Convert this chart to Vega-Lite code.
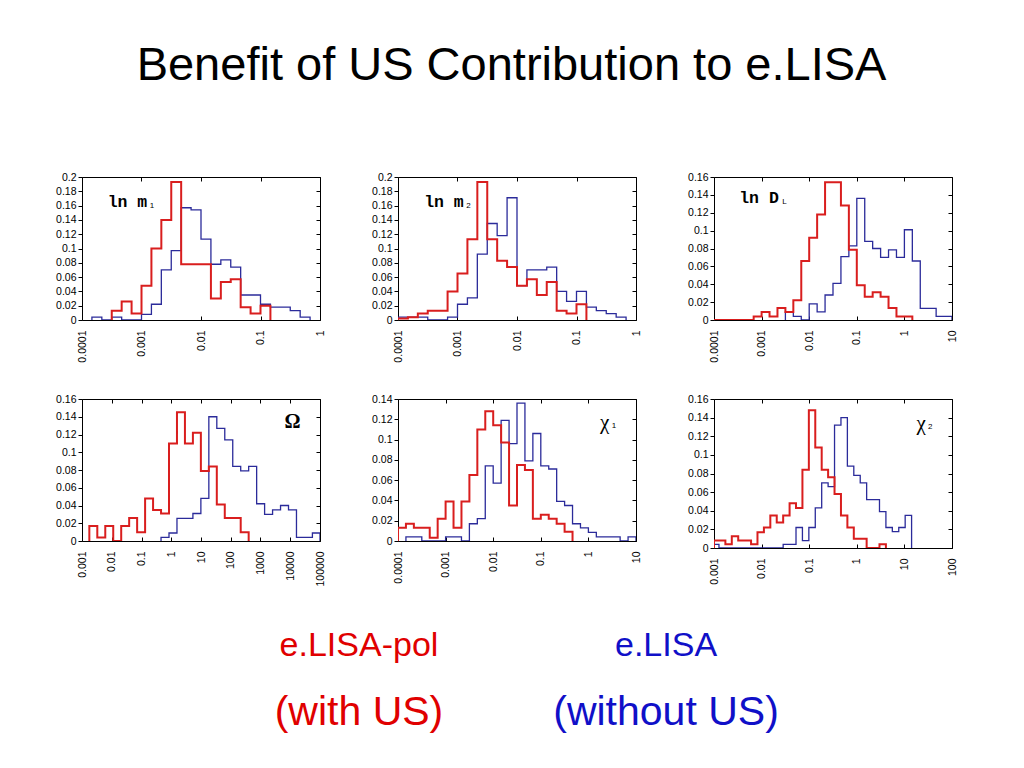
{
"$schema":"https://vega.github.io/schema/vega-lite/v6.json",
"background":"white",
"padding":{"left":55,"top":41,"right":10,"bottom":10},
"title":{"text":"Benefit of US Contribution to e.LISA","fontSize":47,"font":"Liberation Sans","fontWeight":"normal","anchor":"middle","baseline":"alphabetic","offset":45,"dx":5,"color":"#000"},
"config":{"view":{"stroke":null},"font":"Liberation Sans","axis":{"labelFont":"Liberation Sans","labelFontSize":10.5,"labelColor":"#000","tickColor":"#000","grid":false,"domain":false,"title":null}},
"spacing":30,
"datasets":{
"labels":[{"p":1,"x":0.00027,"y":0.1655,"t":"ln m","sub":"1"},{"p":2,"x":0.000275,"y":0.1655,"t":"ln m","sub":"2"},{"p":3,"x":0.000338,"y":0.1367,"t":"ln D","sub":"L"},{"p":4,"x":12000,"y":0.1344,"t":"Ω","sub":""},{"p":5,"x":2.2,"y":0.116,"t":"χ","sub":"1"},{"p":6,"x":22.4,"y":0.1328,"t":"χ","sub":"2"}],
"legend":[{"g":"with","row":1,"t":"e.LISA-pol"},{"g":"without","row":1,"t":"e.LISA"},{"g":"with","row":2,"t":"(with US)"},{"g":"without","row":2,"t":"(without US)"}],
"p1":[
{"s":"r","i":0,"x":0.00031623,"y":0},{"s":"r","i":1,"x":0.00031623,"y":0.013},{"s":"r","i":2,"x":0.00046416,"y":0.026},{"s":"r","i":3,"x":0.00068129,"y":0.009},{"s":"r","i":4,"x":0.001,"y":0.048},{"s":"r","i":5,"x":0.0014678,"y":0.1},{"s":"r","i":6,"x":0.0021544,"y":0.14},{"s":"r","i":7,"x":0.0031623,"y":0.193},{"s":"r","i":8,"x":0.0046416,"y":0.078},{"s":"r","i":9,"x":0.014678,"y":0.03},{"s":"r","i":10,"x":0.021544,"y":0.053},{"s":"r","i":11,"x":0.031623,"y":0.057},{"s":"r","i":12,"x":0.046416,"y":0.018},{"s":"r","i":13,"x":0.068129,"y":0.009},{"s":"r","i":14,"x":0.1,"y":0.02},{"s":"r","i":15,"x":0.14678,"y":0},
{"s":"b","i":0,"x":0.00014678,"y":0},{"s":"b","i":1,"x":0.00014678,"y":0.004},{"s":"b","i":2,"x":0.00021544,"y":0},{"s":"b","i":3,"x":0.00031623,"y":0.004},{"s":"b","i":4,"x":0.00046416,"y":0},{"s":"b","i":5,"x":0.001,"y":0.008},{"s":"b","i":6,"x":0.0014678,"y":0.022},{"s":"b","i":7,"x":0.0021544,"y":0.07},{"s":"b","i":8,"x":0.0031623,"y":0.097},{"s":"b","i":9,"x":0.0046416,"y":0.157},{"s":"b","i":10,"x":0.0068129,"y":0.154},{"s":"b","i":11,"x":0.01,"y":0.113},{"s":"b","i":12,"x":0.014678,"y":0.078},{"s":"b","i":13,"x":0.021544,"y":0.084},{"s":"b","i":14,"x":0.031623,"y":0.074},{"s":"b","i":15,"x":0.046416,"y":0.035},{"s":"b","i":16,"x":0.1,"y":0.022},{"s":"b","i":17,"x":0.14678,"y":0.018},{"s":"b","i":18,"x":0.31623,"y":0.013},{"s":"b","i":19,"x":0.46416,"y":0.004},{"s":"b","i":20,"x":0.68129,"y":0}],
"p2":[
{"s":"r","i":0,"x":0.0001,"y":0},{"s":"r","i":1,"x":0.0001,"y":0.002},{"s":"r","i":2,"x":0.00014678,"y":0.004},{"s":"r","i":3,"x":0.00021544,"y":0.009},{"s":"r","i":4,"x":0.00031623,"y":0.013},{"s":"r","i":5,"x":0.00068129,"y":0.04},{"s":"r","i":6,"x":0.001,"y":0.065},{"s":"r","i":7,"x":0.0014678,"y":0.113},{"s":"r","i":8,"x":0.0021544,"y":0.193},{"s":"r","i":9,"x":0.0031623,"y":0.113},{"s":"r","i":10,"x":0.0046416,"y":0.083},{"s":"r","i":11,"x":0.0068129,"y":0.074},{"s":"r","i":12,"x":0.01,"y":0.048},{"s":"r","i":13,"x":0.014678,"y":0.057},{"s":"r","i":14,"x":0.021544,"y":0.035},{"s":"r","i":15,"x":0.031623,"y":0.053},{"s":"r","i":16,"x":0.046416,"y":0.013},{"s":"r","i":17,"x":0.068129,"y":0.009},{"s":"r","i":18,"x":0.1,"y":0.022},{"s":"r","i":19,"x":0.14678,"y":0},
{"s":"b","i":0,"x":0.0001,"y":0},{"s":"b","i":1,"x":0.0001,"y":0.004},{"s":"b","i":2,"x":0.00031623,"y":0},{"s":"b","i":3,"x":0.00068129,"y":0.004},{"s":"b","i":4,"x":0.001,"y":0.022},{"s":"b","i":5,"x":0.0014678,"y":0.031},{"s":"b","i":6,"x":0.0021544,"y":0.092},{"s":"b","i":7,"x":0.0031623,"y":0.135},{"s":"b","i":8,"x":0.0046416,"y":0.118},{"s":"b","i":9,"x":0.0068129,"y":0.171},{"s":"b","i":10,"x":0.01,"y":0.048},{"s":"b","i":11,"x":0.014678,"y":0.07},{"s":"b","i":12,"x":0.031623,"y":0.074},{"s":"b","i":13,"x":0.046416,"y":0.04},{"s":"b","i":14,"x":0.068129,"y":0.026},{"s":"b","i":15,"x":0.1,"y":0.04},{"s":"b","i":16,"x":0.14678,"y":0.018},{"s":"b","i":17,"x":0.21544,"y":0.013},{"s":"b","i":18,"x":0.31623,"y":0.009},{"s":"b","i":19,"x":0.46416,"y":0.004},{"s":"b","i":20,"x":0.68129,"y":0}],
"p3":[
{"s":"r","i":0,"x":0.0001,"y":0},{"s":"r","i":1,"x":0.00068129,"y":0.004},{"s":"r","i":2,"x":0.001,"y":0.009},{"s":"r","i":3,"x":0.0014678,"y":0.004},{"s":"r","i":4,"x":0.0021544,"y":0.0135},{"s":"r","i":5,"x":0.0031623,"y":0.009},{"s":"r","i":6,"x":0.0046416,"y":0.022},{"s":"r","i":7,"x":0.0068129,"y":0.066},{"s":"r","i":8,"x":0.01,"y":0.092},{"s":"r","i":9,"x":0.014678,"y":0.118},{"s":"r","i":10,"x":0.021544,"y":0.154},{"s":"r","i":11,"x":0.046416,"y":0.128},{"s":"r","i":12,"x":0.068129,"y":0.0785},{"s":"r","i":13,"x":0.1,"y":0.039},{"s":"r","i":14,"x":0.14678,"y":0.026},{"s":"r","i":15,"x":0.21544,"y":0.031},{"s":"r","i":16,"x":0.31623,"y":0.026},{"s":"r","i":17,"x":0.46416,"y":0.0135},{"s":"r","i":18,"x":0.68129,"y":0.004},{"s":"r","i":19,"x":1.4678,"y":0},
{"s":"b","i":0,"x":0.0031623,"y":0},{"s":"b","i":1,"x":0.0031623,"y":0.009},{"s":"b","i":2,"x":0.0046416,"y":0.004},{"s":"b","i":3,"x":0.0068129,"y":0},{"s":"b","i":4,"x":0.01,"y":0.018},{"s":"b","i":5,"x":0.014678,"y":0.009},{"s":"b","i":6,"x":0.021544,"y":0.028},{"s":"b","i":7,"x":0.031623,"y":0.041},{"s":"b","i":8,"x":0.046416,"y":0.071},{"s":"b","i":9,"x":0.068129,"y":0.083},{"s":"b","i":10,"x":0.1,"y":0.136},{"s":"b","i":11,"x":0.14678,"y":0.088},{"s":"b","i":12,"x":0.21544,"y":0.08},{"s":"b","i":13,"x":0.31623,"y":0.07},{"s":"b","i":14,"x":0.46416,"y":0.0785},{"s":"b","i":15,"x":0.68129,"y":0.07},{"s":"b","i":16,"x":1,"y":0.101},{"s":"b","i":17,"x":1.4678,"y":0.066},{"s":"b","i":18,"x":2.1544,"y":0.013},{"s":"b","i":19,"x":4.6416,"y":0.004},{"s":"b","i":20,"x":10,"y":0}],
"p4":[
{"s":"r","i":0,"x":0.001764,"y":0},{"s":"r","i":1,"x":0.001764,"y":0.017},{"s":"r","i":2,"x":0.003268,"y":0.004},{"s":"r","i":3,"x":0.006056,"y":0.017},{"s":"r","i":4,"x":0.011217,"y":0},{"s":"r","i":5,"x":0.02078,"y":0.017},{"s":"r","i":6,"x":0.0385,"y":0.026},{"s":"r","i":7,"x":0.07133,"y":0.01},{"s":"r","i":8,"x":0.13215,"y":0.048},{"s":"r","i":9,"x":0.2448,"y":0.035},{"s":"r","i":10,"x":0.4536,"y":0.031},{"s":"r","i":11,"x":0.8404,"y":0.11},{"s":"r","i":12,"x":1.557,"y":0.145},{"s":"r","i":13,"x":2.885,"y":0.11},{"s":"r","i":14,"x":5.345,"y":0.122},{"s":"r","i":15,"x":9.902,"y":0.079},{"s":"r","i":16,"x":18.35,"y":0.084},{"s":"r","i":17,"x":33.99,"y":0.041},{"s":"r","i":18,"x":62.97,"y":0.026},{"s":"r","i":19,"x":216.1,"y":0.01},{"s":"r","i":20,"x":400.4,"y":0},
{"s":"b","i":0,"x":0.4536,"y":0},{"s":"b","i":1,"x":0.4536,"y":0.004},{"s":"b","i":2,"x":0.8404,"y":0.009},{"s":"b","i":3,"x":1.557,"y":0.0255},{"s":"b","i":4,"x":5.345,"y":0.031},{"s":"b","i":5,"x":9.902,"y":0.048},{"s":"b","i":6,"x":18.35,"y":0.14},{"s":"b","i":7,"x":33.99,"y":0.127},{"s":"b","i":8,"x":62.97,"y":0.114},{"s":"b","i":9,"x":116.7,"y":0.084},{"s":"b","i":10,"x":216.1,"y":0.079},{"s":"b","i":11,"x":400.4,"y":0.084},{"s":"b","i":12,"x":741.9,"y":0.042},{"s":"b","i":13,"x":1374,"y":0.03},{"s":"b","i":14,"x":2546,"y":0.035},{"s":"b","i":15,"x":4717,"y":0.04},{"s":"b","i":16,"x":8739,"y":0.035},{"s":"b","i":17,"x":16190,"y":0.004},{"s":"b","i":18,"x":55580,"y":0.009},{"s":"b","i":19,"x":100000,"y":0}],
"p5":[
{"s":"r","i":0,"x":0.0001,"y":0},{"s":"r","i":1,"x":0.0001,"y":0.013},{"s":"r","i":2,"x":0.00014678,"y":0.017},{"s":"r","i":3,"x":0.00021544,"y":0.013},{"s":"r","i":4,"x":0.00046416,"y":0.0033},{"s":"r","i":5,"x":0.00068129,"y":0.022},{"s":"r","i":6,"x":0.001,"y":0.039},{"s":"r","i":7,"x":0.0014678,"y":0.013},{"s":"r","i":8,"x":0.0021544,"y":0.039},{"s":"r","i":9,"x":0.0031623,"y":0.065},{"s":"r","i":10,"x":0.0046416,"y":0.11},{"s":"r","i":11,"x":0.0068129,"y":0.128},{"s":"r","i":12,"x":0.01,"y":0.114},{"s":"r","i":13,"x":0.014678,"y":0.097},{"s":"r","i":14,"x":0.021544,"y":0.035},{"s":"r","i":15,"x":0.031623,"y":0.075},{"s":"r","i":16,"x":0.046416,"y":0.07},{"s":"r","i":17,"x":0.068129,"y":0.022},{"s":"r","i":18,"x":0.1,"y":0.026},{"s":"r","i":19,"x":0.14678,"y":0.022},{"s":"r","i":20,"x":0.21544,"y":0.017},{"s":"r","i":21,"x":0.31623,"y":0.009},{"s":"r","i":22,"x":0.46416,"y":0},
{"s":"b","i":0,"x":0.00014678,"y":0},{"s":"b","i":1,"x":0.00014678,"y":0.004},{"s":"b","i":2,"x":0.00031623,"y":0},{"s":"b","i":3,"x":0.001,"y":0.004},{"s":"b","i":4,"x":0.0021544,"y":0},{"s":"b","i":5,"x":0.0031623,"y":0.017},{"s":"b","i":6,"x":0.0046416,"y":0.022},{"s":"b","i":7,"x":0.0068129,"y":0.074},{"s":"b","i":8,"x":0.01,"y":0.057},{"s":"b","i":9,"x":0.014678,"y":0.119},{"s":"b","i":10,"x":0.021544,"y":0.096},{"s":"b","i":11,"x":0.031623,"y":0.136},{"s":"b","i":12,"x":0.046416,"y":0.079},{"s":"b","i":13,"x":0.068129,"y":0.106},{"s":"b","i":14,"x":0.1,"y":0.074},{"s":"b","i":15,"x":0.14678,"y":0.071},{"s":"b","i":16,"x":0.21544,"y":0.039},{"s":"b","i":17,"x":0.31623,"y":0.035},{"s":"b","i":18,"x":0.46416,"y":0.017},{"s":"b","i":19,"x":0.68129,"y":0.013},{"s":"b","i":20,"x":1,"y":0.0085},{"s":"b","i":21,"x":1.4678,"y":0.004},{"s":"b","i":22,"x":4.6416,"y":0},{"s":"b","i":23,"x":6.8129,"y":0.004},{"s":"b","i":24,"x":10,"y":0}],
"p6":[
{"s":"r","i":0,"x":0.001,"y":0},{"s":"r","i":1,"x":0.001,"y":0.008},{"s":"r","i":2,"x":0.0017338,"y":0.004},{"s":"r","i":3,"x":0.0023652,"y":0.0125},{"s":"r","i":4,"x":0.0032265,"y":0.008},{"s":"r","i":5,"x":0.0060046,"y":0.004},{"s":"r","i":6,"x":0.0081914,"y":0.017},{"s":"r","i":7,"x":0.011179,"y":0.022},{"s":"r","i":8,"x":0.01525,"y":0.035},{"s":"r","i":9,"x":0.020805,"y":0.0275},{"s":"r","i":10,"x":0.028386,"y":0.035},{"s":"r","i":11,"x":0.038726,"y":0.048},{"s":"r","i":12,"x":0.052833,"y":0.043},{"s":"r","i":13,"x":0.072078,"y":0.084},{"s":"r","i":14,"x":0.098333,"y":0.148},{"s":"r","i":15,"x":0.13414,"y":0.108},{"s":"r","i":16,"x":0.18299,"y":0.084},{"s":"r","i":17,"x":0.24966,"y":0.076},{"s":"r","i":18,"x":0.34059,"y":0.058},{"s":"r","i":19,"x":0.46474,"y":0.035},{"s":"r","i":20,"x":0.63404,"y":0.022},{"s":"r","i":21,"x":0.86497,"y":0.01},{"s":"r","i":22,"x":1.6099,"y":0},{"s":"r","i":23,"x":2.9965,"y":0.004},{"s":"r","i":24,"x":4.0877,"y":0},
{"s":"b","i":0,"x":0.001,"y":0},{"s":"b","i":1,"x":0.001,"y":0.004},{"s":"b","i":2,"x":0.0012709,"y":0},{"s":"b","i":3,"x":0.028386,"y":0.004},{"s":"b","i":4,"x":0.052833,"y":0.022},{"s":"b","i":5,"x":0.072078,"y":0.008},{"s":"b","i":6,"x":0.098333,"y":0.022},{"s":"b","i":7,"x":0.13414,"y":0.043},{"s":"b","i":8,"x":0.18299,"y":0.07},{"s":"b","i":9,"x":0.24966,"y":0.066},{"s":"b","i":10,"x":0.34059,"y":0.132},{"s":"b","i":11,"x":0.46474,"y":0.14},{"s":"b","i":12,"x":0.63404,"y":0.088},{"s":"b","i":13,"x":0.86497,"y":0.078},{"s":"b","i":14,"x":1.1801,"y":0.07},{"s":"b","i":15,"x":1.6099,"y":0.052},{"s":"b","i":16,"x":2.9965,"y":0.039},{"s":"b","i":17,"x":4.0877,"y":0.022},{"s":"b","i":18,"x":5.5767,"y":0.0175},{"s":"b","i":19,"x":7.6077,"y":0.022},{"s":"b","i":20,"x":10.38,"y":0.035},{"s":"b","i":21,"x":14.16,"y":0}]
},
"vconcat":[
{"hconcat":[
{"width":238,"height":143,"view":{"stroke":"#000","strokeWidth":1},"data":{"name":"p1"},"resolve":{"axis":{"x":"independent","y":"independent"}},
"layer":[
{"transform":[{"filter":"datum.s=='b'"}],"mark":{"type":"line","interpolate":"step-after","color":"#2b2b9a","strokeWidth":1.3,"clip":true},
"encoding":{"x":{"field":"x","type":"quantitative","scale":{"type":"log","domain":[0.0001,1],"nice":false},"axis":{"orient":"top","values":[0.0001,0.001,0.01,0.1,1],"labels":false,"tickSize":-4}},
"y":{"field":"y","type":"quantitative","scale":{"domain":[0,0.2],"nice":false},"axis":{"orient":"right","values":[0,0.02,0.04,0.06,0.08,0.1,0.12,0.14,0.16,0.18,0.2],"labels":false,"tickSize":-4}},"order":{"field":"i"}}},
{"transform":[{"filter":"datum.s=='r'"}],"mark":{"type":"line","interpolate":"step-after","color":"#d91e1e","strokeWidth":2,"clip":true},
"encoding":{"x":{"field":"x","type":"quantitative","scale":{"type":"log","domain":[0.0001,1],"nice":false},"axis":{"orient":"bottom","values":[0.0001,0.001,0.01,0.1,1],"format":"~g","labelAngle":270,"tickSize":-4,"labelPadding":14}},
"y":{"field":"y","type":"quantitative","scale":{"domain":[0,0.2],"nice":false},"axis":{"orient":"left","values":[0,0.02,0.04,0.06,0.08,0.1,0.12,0.14,0.16,0.18,0.2],"format":"~g","tickSize":4,"labelPadding":2}},"order":{"field":"i"}}},
{"data":{"name":"labels"},"transform":[{"filter":"datum.p==1"}],"mark":{"type":"text","font":"Liberation Mono","fontWeight":"bold","fontSize":16.5,"align":"left","baseline":"middle","fill":"#000"},"encoding":{"x":{"field":"x","type":"quantitative","axis":null},"y":{"field":"y","type":"quantitative","axis":null},"text":{"field":"t"}}},
{"data":{"name":"labels"},"transform":[{"filter":"datum.p==1"}],"mark":{"type":"text","font":"Liberation Sans","fontSize":8,"align":"left","baseline":"middle","dx":42,"dy":4,"fill":"#000"},"encoding":{"x":{"field":"x","type":"quantitative","axis":null},"y":{"field":"y","type":"quantitative","axis":null},"text":{"field":"sub"}}}
]},
{"width":238,"height":143,"view":{"stroke":"#000","strokeWidth":1},"data":{"name":"p2"},"resolve":{"axis":{"x":"independent","y":"independent"}},
"layer":[
{"transform":[{"filter":"datum.s=='b'"}],"mark":{"type":"line","interpolate":"step-after","color":"#2b2b9a","strokeWidth":1.3,"clip":true},
"encoding":{"x":{"field":"x","type":"quantitative","scale":{"type":"log","domain":[0.0001,1],"nice":false},"axis":{"orient":"top","values":[0.0001,0.001,0.01,0.1,1],"labels":false,"tickSize":-4}},
"y":{"field":"y","type":"quantitative","scale":{"domain":[0,0.2],"nice":false},"axis":{"orient":"right","values":[0,0.02,0.04,0.06,0.08,0.1,0.12,0.14,0.16,0.18,0.2],"labels":false,"tickSize":-4}},"order":{"field":"i"}}},
{"transform":[{"filter":"datum.s=='r'"}],"mark":{"type":"line","interpolate":"step-after","color":"#d91e1e","strokeWidth":2,"clip":true},
"encoding":{"x":{"field":"x","type":"quantitative","scale":{"type":"log","domain":[0.0001,1],"nice":false},"axis":{"orient":"bottom","values":[0.0001,0.001,0.01,0.1,1],"format":"~g","labelAngle":270,"tickSize":-4,"labelPadding":14}},
"y":{"field":"y","type":"quantitative","scale":{"domain":[0,0.2],"nice":false},"axis":{"orient":"left","values":[0,0.02,0.04,0.06,0.08,0.1,0.12,0.14,0.16,0.18,0.2],"format":"~g","tickSize":4,"labelPadding":2}},"order":{"field":"i"}}},
{"data":{"name":"labels"},"transform":[{"filter":"datum.p==2"}],"mark":{"type":"text","font":"Liberation Mono","fontWeight":"bold","fontSize":16.5,"align":"left","baseline":"middle","fill":"#000"},"encoding":{"x":{"field":"x","type":"quantitative","axis":null},"y":{"field":"y","type":"quantitative","axis":null},"text":{"field":"t"}}},
{"data":{"name":"labels"},"transform":[{"filter":"datum.p==2"}],"mark":{"type":"text","font":"Liberation Sans","fontSize":8,"align":"left","baseline":"middle","dx":42,"dy":4,"fill":"#000"},"encoding":{"x":{"field":"x","type":"quantitative","axis":null},"y":{"field":"y","type":"quantitative","axis":null},"text":{"field":"sub"}}}
]},
{"width":238,"height":143,"view":{"stroke":"#000","strokeWidth":1},"data":{"name":"p3"},"resolve":{"axis":{"x":"independent","y":"independent"}},
"layer":[
{"transform":[{"filter":"datum.s=='b'"}],"mark":{"type":"line","interpolate":"step-after","color":"#2b2b9a","strokeWidth":1.3,"clip":true},
"encoding":{"x":{"field":"x","type":"quantitative","scale":{"type":"log","domain":[0.0001,10],"nice":false},"axis":{"orient":"top","values":[0.0001,0.001,0.01,0.1,1,10],"labels":false,"tickSize":-4}},
"y":{"field":"y","type":"quantitative","scale":{"domain":[0,0.16],"nice":false},"axis":{"orient":"right","values":[0,0.02,0.04,0.06,0.08,0.1,0.12,0.14,0.16],"labels":false,"tickSize":-4}},"order":{"field":"i"}}},
{"transform":[{"filter":"datum.s=='r'"}],"mark":{"type":"line","interpolate":"step-after","color":"#d91e1e","strokeWidth":2,"clip":true},
"encoding":{"x":{"field":"x","type":"quantitative","scale":{"type":"log","domain":[0.0001,10],"nice":false},"axis":{"orient":"bottom","values":[0.0001,0.001,0.01,0.1,1,10],"format":"~g","labelAngle":270,"tickSize":-4,"labelPadding":14}},
"y":{"field":"y","type":"quantitative","scale":{"domain":[0,0.16],"nice":false},"axis":{"orient":"left","values":[0,0.02,0.04,0.06,0.08,0.1,0.12,0.14,0.16],"format":"~g","tickSize":4,"labelPadding":2}},"order":{"field":"i"}}},
{"data":{"name":"labels"},"transform":[{"filter":"datum.p==3"}],"mark":{"type":"text","font":"Liberation Mono","fontWeight":"bold","fontSize":16.5,"align":"left","baseline":"middle","fill":"#000"},"encoding":{"x":{"field":"x","type":"quantitative","axis":null},"y":{"field":"y","type":"quantitative","axis":null},"text":{"field":"t"}}},
{"data":{"name":"labels"},"transform":[{"filter":"datum.p==3"}],"mark":{"type":"text","font":"Liberation Sans","fontSize":8,"align":"left","baseline":"middle","dx":43,"dy":4,"fill":"#000"},"encoding":{"x":{"field":"x","type":"quantitative","axis":null},"y":{"field":"y","type":"quantitative","axis":null},"text":{"field":"sub"}}}
]}
],"spacing":78,"bounds":"flush"},
{"hconcat":[
{"width":238,"height":142,"view":{"stroke":"#000","strokeWidth":1},"data":{"name":"p4"},"resolve":{"axis":{"x":"independent","y":"independent"}},
"layer":[
{"transform":[{"filter":"datum.s=='b'"}],"mark":{"type":"line","interpolate":"step-after","color":"#2b2b9a","strokeWidth":1.3,"clip":true},
"encoding":{"x":{"field":"x","type":"quantitative","scale":{"type":"log","domain":[0.001,100000],"nice":false},"axis":{"orient":"top","values":[0.001,0.01,0.1,1,10,100,1000,10000,100000],"labels":false,"tickSize":-4}},
"y":{"field":"y","type":"quantitative","scale":{"domain":[0,0.16],"nice":false},"axis":{"orient":"right","values":[0,0.02,0.04,0.06,0.08,0.1,0.12,0.14,0.16],"labels":false,"tickSize":-4}},"order":{"field":"i"}}},
{"transform":[{"filter":"datum.s=='r'"}],"mark":{"type":"line","interpolate":"step-after","color":"#d91e1e","strokeWidth":2,"clip":true},
"encoding":{"x":{"field":"x","type":"quantitative","scale":{"type":"log","domain":[0.001,100000],"nice":false},"axis":{"orient":"bottom","values":[0.001,0.01,0.1,1,10,100,1000,10000,100000],"format":"~g","labelAngle":270,"tickSize":-4,"labelPadding":14}},
"y":{"field":"y","type":"quantitative","scale":{"domain":[0,0.16],"nice":false},"axis":{"orient":"left","values":[0,0.02,0.04,0.06,0.08,0.1,0.12,0.14,0.16],"format":"~g","tickSize":4,"labelPadding":2}},"order":{"field":"i"}}},
{"data":{"name":"labels"},"transform":[{"filter":"datum.p==4"}],"mark":{"type":"text","font":"Liberation Serif","fontWeight":"bold","fontSize":20,"align":"center","baseline":"middle","fill":"#000"},"encoding":{"x":{"field":"x","type":"quantitative","axis":null},"y":{"field":"y","type":"quantitative","axis":null},"text":{"field":"t"}}}
]},
{"width":238,"height":142,"view":{"stroke":"#000","strokeWidth":1},"data":{"name":"p5"},"resolve":{"axis":{"x":"independent","y":"independent"}},
"layer":[
{"transform":[{"filter":"datum.s=='b'"}],"mark":{"type":"line","interpolate":"step-after","color":"#2b2b9a","strokeWidth":1.3,"clip":true},
"encoding":{"x":{"field":"x","type":"quantitative","scale":{"type":"log","domain":[0.0001,10],"nice":false},"axis":{"orient":"top","values":[0.0001,0.001,0.01,0.1,1,10],"labels":false,"tickSize":-4}},
"y":{"field":"y","type":"quantitative","scale":{"domain":[0,0.14],"nice":false},"axis":{"orient":"right","values":[0,0.02,0.04,0.06,0.08,0.1,0.12,0.14],"labels":false,"tickSize":-4}},"order":{"field":"i"}}},
{"transform":[{"filter":"datum.s=='r'"}],"mark":{"type":"line","interpolate":"step-after","color":"#d91e1e","strokeWidth":2,"clip":true},
"encoding":{"x":{"field":"x","type":"quantitative","scale":{"type":"log","domain":[0.0001,10],"nice":false},"axis":{"orient":"bottom","values":[0.0001,0.001,0.01,0.1,1,10],"format":"~g","labelAngle":270,"tickSize":-4,"labelPadding":14}},
"y":{"field":"y","type":"quantitative","scale":{"domain":[0,0.14],"nice":false},"axis":{"orient":"left","values":[0,0.02,0.04,0.06,0.08,0.1,0.12,0.14],"format":"~g","tickSize":4,"labelPadding":2}},"order":{"field":"i"}}},
{"data":{"name":"labels"},"transform":[{"filter":"datum.p==5"}],"mark":{"type":"text","font":"Liberation Serif","fontSize":21,"align":"center","baseline":"middle","fill":"#000"},"encoding":{"x":{"field":"x","type":"quantitative","axis":null},"y":{"field":"y","type":"quantitative","axis":null},"text":{"field":"t"}}},
{"data":{"name":"labels"},"transform":[{"filter":"datum.p==5"}],"mark":{"type":"text","font":"Liberation Sans","fontSize":8,"align":"left","baseline":"middle","dx":7,"dy":3,"fill":"#000"},"encoding":{"x":{"field":"x","type":"quantitative","axis":null},"y":{"field":"y","type":"quantitative","axis":null},"text":{"field":"sub"}}}
]},
{"width":238,"height":149,"view":{"stroke":"#000","strokeWidth":1},"data":{"name":"p6"},"resolve":{"axis":{"x":"independent","y":"independent"}},
"layer":[
{"transform":[{"filter":"datum.s=='b'"}],"mark":{"type":"line","interpolate":"step-after","color":"#2b2b9a","strokeWidth":1.3,"clip":true},
"encoding":{"x":{"field":"x","type":"quantitative","scale":{"type":"log","domain":[0.001,100],"nice":false},"axis":{"orient":"top","values":[0.001,0.01,0.1,1,10,100],"labels":false,"tickSize":-4}},
"y":{"field":"y","type":"quantitative","scale":{"domain":[0,0.16],"nice":false},"axis":{"orient":"right","values":[0,0.02,0.04,0.06,0.08,0.1,0.12,0.14,0.16],"labels":false,"tickSize":-4}},"order":{"field":"i"}}},
{"transform":[{"filter":"datum.s=='r'"}],"mark":{"type":"line","interpolate":"step-after","color":"#d91e1e","strokeWidth":2,"clip":true},
"encoding":{"x":{"field":"x","type":"quantitative","scale":{"type":"log","domain":[0.001,100],"nice":false},"axis":{"orient":"bottom","values":[0.001,0.01,0.1,1,10,100],"format":"~g","labelAngle":270,"tickSize":-4,"labelPadding":14}},
"y":{"field":"y","type":"quantitative","scale":{"domain":[0,0.16],"nice":false},"axis":{"orient":"left","values":[0,0.02,0.04,0.06,0.08,0.1,0.12,0.14,0.16],"format":"~g","tickSize":4,"labelPadding":2}},"order":{"field":"i"}}},
{"data":{"name":"labels"},"transform":[{"filter":"datum.p==6"}],"mark":{"type":"text","font":"Liberation Serif","fontSize":21,"align":"center","baseline":"middle","fill":"#000"},"encoding":{"x":{"field":"x","type":"quantitative","axis":null},"y":{"field":"y","type":"quantitative","axis":null},"text":{"field":"t"}}},
{"data":{"name":"labels"},"transform":[{"filter":"datum.p==6"}],"mark":{"type":"text","font":"Liberation Sans","fontSize":8,"align":"left","baseline":"middle","dx":7,"dy":3,"fill":"#000"},"encoding":{"x":{"field":"x","type":"quantitative","axis":null},"y":{"field":"y","type":"quantitative","axis":null},"text":{"field":"sub"}}}
]}
],"spacing":78,"bounds":"flush"},
{"width":861,"height":125,"view":{"fill":"#ffffff","stroke":null},"data":{"name":"legend"},
"layer":[
{"transform":[{"filter":"datum.row==1"}],"mark":{"type":"text","font":"Liberation Sans","fontSize":34,"align":"center","baseline":"middle"},
"encoding":{"x":{"field":"g","type":"nominal","scale":{"type":"point","domain":["with","without"],"padding":0.902},"axis":null},"y":{"field":"row","type":"ordinal","scale":{"type":"point","domain":[1,2],"padding":0.433},"axis":null},"text":{"field":"t"},"color":{"field":"g","type":"nominal","scale":{"domain":["with","without"],"range":["#e00000","#1010c8"]},"legend":null}}},
{"transform":[{"filter":"datum.row==2"}],"mark":{"type":"text","font":"Liberation Sans","fontSize":41,"align":"center","baseline":"middle"},
"encoding":{"x":{"field":"g","type":"nominal","scale":{"type":"point","domain":["with","without"],"padding":0.902},"axis":null},"y":{"field":"row","type":"ordinal","scale":{"type":"point","domain":[1,2],"padding":0.433},"axis":null},"text":{"field":"t"},"color":{"field":"g","type":"nominal","scale":{"domain":["with","without"],"range":["#e00000","#1010c8"]},"legend":null}}}
]}
]
}
